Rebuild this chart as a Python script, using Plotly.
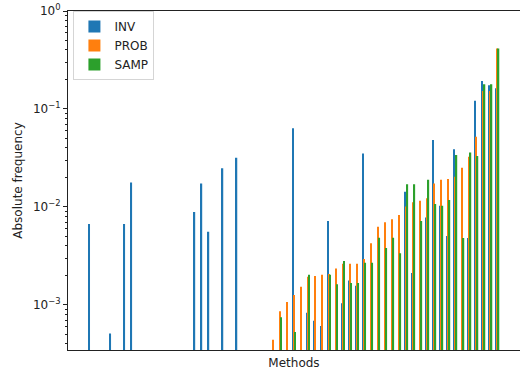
import plotly.graph_objects as go

N = None
methods = [f"M{i + 1}" for i in range(59)]

inv = [0.0067, N, N, 0.00051, N, 0.0067, 0.0178, N, N, N,
       N, N, N, N, N, 0.0089, 0.0174, 0.0056, N, 0.0249,
       N, 0.0318, N, N, N, N, N, N, N, 0.0636,
       N, 0.00083, 0.00069, 0.00061, 0.0072, N, 0.00104, 0.00178, 0.00157, 0.0352,
       N, N, N, N, N, 0.0143, 0.00212, N, 0.0078, 0.0482,
       0.0103, 0.00505, 0.0387, N, 0.00482, 0.121, 0.193, 0.175, 0.163]

prob = [N, N, N, N, N, N, N, N, N, N,
        N, N, N, N, N, N, N, N, N, N,
        N, N, N, N, N, N, 0.00044, 0.00086, 0.00107, 0.00126,
        0.00153, 0.00194, 0.00197, 0.00203, 0.00207, 0.00236, 0.00263, 0.00263, 0.00263, 0.00294,
        0.00425, 0.00628, 0.0070, 0.0075, 0.0083, 0.0101, 0.0112, 0.0116, 0.0123, 0.0174,
        0.0190, 0.0193, 0.0203, 0.0251, 0.0326, 0.052, 0.153, 0.153, 0.415]

samp = [N, N, N, N, N, N, N, N, N, N,
        N, N, N, N, N, N, N, N, N, N,
        N, N, N, N, N, N, N, 0.00075, N, 0.00053,
        N, 0.00203, N, N, 0.00203, 0.00163, 0.00281, 0.00167, 0.00167, 0.00270,
        0.00270, 0.00485, 0.00381, 0.00485, 0.00336, 0.0171, 0.0171, 0.0072, 0.0190, 0.0107,
        0.0103, 0.0118, 0.0339, 0.00482, 0.0360, 0.0331, 0.179, 0.179, 0.415]

series = [("INV", inv, "#1f77b4"), ("PROB", prob, "#ff7f0e"), ("SAMP", samp, "#2ca02c")]

ytick_vals = [1e-3, 1e-2, 1e-1, 1]
ytick_text = ["10<sup>\u22123</sup>", "10<sup>\u22122</sup>", "10<sup>\u22121</sup>", "10<sup>0</sup>"]
minor_vals = [m * 10 ** e for e in range(-4, 0) for m in range(2, 10) if 3.4e-4 < m * 10 ** e < 1]

fig = go.Figure()
for name, vals, color in series:
    fig.add_trace(go.Bar(x=methods, y=vals, name=name, marker=dict(color=color, line=dict(width=0))))

font = "DejaVu Sans"
fig.update_layout(
    width=521, height=376,
    margin=dict(l=68, r=1, t=11, b=26, autoexpand=False),
    paper_bgcolor="white", plot_bgcolor="white",
    barmode="group", bargap=0.45, bargroupgap=0,
    font=dict(family=font, size=12, color="#222222"),
    showlegend=True,
    legend=dict(x=0.012, y=1.0, xanchor="left", yanchor="top",
                bgcolor="rgba(255,255,255,0.8)", bordercolor="#d5d5d5", borderwidth=1,
                font=dict(size=12), tracegroupgap=0),
    xaxis=dict(type="category", range=[-3.23, 61.23], showticklabels=False, ticks="",
               showgrid=False, zeroline=False, showline=True, linecolor="#222222",
               linewidth=1, mirror=True, automargin=False,
               title=dict(text="Methods", standoff=8, font=dict(size=12))),
    yaxis=dict(type="log", range=[-3.46, 0], tickmode="array", tickvals=ytick_vals,
               ticktext=ytick_text, ticks="outside", ticklen=4, tickwidth=1,
               tickcolor="#222222", showgrid=False, zeroline=False, showline=True,
               linecolor="#222222", linewidth=1, automargin=False,
               minor=dict(tickmode="array", tickvals=minor_vals, ticks="outside",
                          ticklen=2, tickwidth=0.8, tickcolor="#222222", showgrid=False),
               title=dict(text="Absolute frequency", standoff=7, font=dict(size=12))),
)

fig.write_html("out.html", config={"displayModeBar": False},
               post_script="document.body.style.margin='0';document.body.style.overflow='hidden';")
